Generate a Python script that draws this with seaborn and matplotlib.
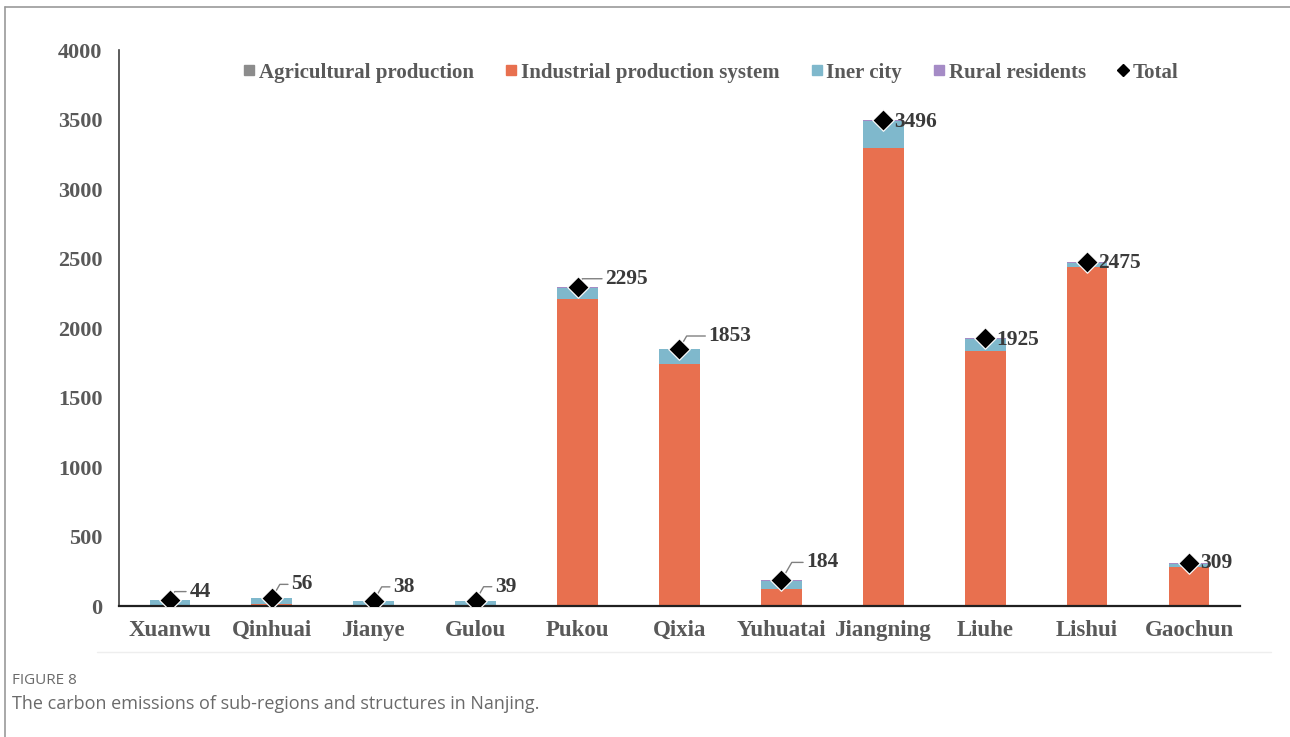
import numpy as np
import pandas as pd
import matplotlib
matplotlib.use("Agg")
import matplotlib.pyplot as plt
import seaborn as sns
from matplotlib.lines import Line2D

regions = ["Xuanwu", "Qinhuai", "Jianye", "Gulou", "Pukou", "Qixia",
           "Yuhuatai", "Jiangning", "Liuhe", "Lishui", "Gaochun"]
agricultural = [0, 0, 0, 0, 5, 3, 1, 6, 6, 8, 6]
industrial = [0, 12, 0, 0, 2205, 1735, 122, 3290, 1830, 2432, 272]
iner_city = [43, 43, 37, 38, 80, 110, 60, 195, 84, 30, 26]
rural = [1, 1, 1, 1, 5, 5, 1, 5, 5, 5, 5]
total = [44, 56, 38, 39, 2295, 1853, 184, 3496, 1925, 2475, 309]

df = pd.DataFrame({"region": regions, "agri": agricultural, "ind": industrial,
                   "iner": iner_city, "rural": rural, "total": total})
df["c1"] = df["agri"]
df["c2"] = df["c1"] + df["ind"]
df["c3"] = df["c2"] + df["iner"]
df["c4"] = df["c3"] + df["rural"]

c_agri = "#8C8C8C"
c_ind = "#E8704F"
c_iner = "#7FB8CC"
c_rural = "#A58BC6"

sns.set_theme(style="white")
plt.rcParams["font.family"] = ["Liberation Serif", "DejaVu Serif"]

fig = plt.figure(figsize=(12.9, 7.37), dpi=100)
ax = fig.add_axes([0.0922, 0.1777, 0.8690, 0.7543])

for col, color in [("c4", c_rural), ("c3", c_iner), ("c2", c_ind), ("c1", c_agri)]:
    sns.barplot(data=df, x="region", y=col, color=color, width=0.4,
                saturation=1, ax=ax, errorbar=None, linewidth=0)

sns.scatterplot(data=df, x="region", y="total", marker="D", color="black",
                s=120, ax=ax, zorder=5, legend=False)

# labels: (dx, dy) offsets in points, leader line flag
offsets = {
    "Xuanwu": (14, 6, True), "Qinhuai": (14, 10, True), "Jianye": (14, 10, True),
    "Gulou": (14, 10, True), "Pukou": (20, 6, True), "Qixia": (21, 9, True),
    "Yuhuatai": (18, 13, True), "Jiangning": (8, -1, False), "Liuhe": (8, -1, False),
    "Lishui": (8, -1, False), "Gaochun": (8, 0, False),
}
for i, (r, t) in enumerate(zip(regions, total)):
    dx, dy, lead = offsets[r]
    kw = {}
    if lead:
        kw["arrowprops"] = dict(arrowstyle="-", color="#808080", lw=1.0,
                                shrinkA=0, shrinkB=2,
                                connectionstyle="angle,angleA=0,angleB=60,rad=0")
    ax.annotate(str(t), xy=(i, t), xytext=(dx, dy), textcoords="offset points",
                fontsize=15.5, fontweight="bold", color="#3A3A3A",
                ha="left", va="center", **kw)

ax.set_ylim(0, 4000)
ax.set_xlim(-0.5, 10.5)
ax.set_yticks(np.arange(0, 4001, 500))
ax.set_xlabel("")
ax.set_ylabel("")
ax.tick_params(axis="x", length=0, labelsize=16.5, labelcolor="#595959", pad=10)
ax.tick_params(axis="y", length=0, labelsize=16, labelcolor="#595959", pad=12)
for lab in ax.get_xticklabels() + ax.get_yticklabels():
    lab.set_fontweight("bold")
for s in ["top", "right"]:
    ax.spines[s].set_visible(False)
ax.spines["left"].set_color("#404040")
ax.spines["bottom"].set_color("#202020")
ax.spines["left"].set_linewidth(1.2)
ax.spines["bottom"].set_linewidth(1.6)
ax.grid(False)

handles = [
    Line2D([], [], marker="s", ls="", color=c_agri, markersize=7),
    Line2D([], [], marker="s", ls="", color=c_ind, markersize=7),
    Line2D([], [], marker="s", ls="", color=c_iner, markersize=7),
    Line2D([], [], marker="s", ls="", color=c_rural, markersize=7),
    Line2D([], [], marker="D", ls="", color="black", markersize=6),
]
labels = ["Agricultural production", "Industrial production system", "Iner city",
          "Rural residents", "Total"]
leg = ax.legend(handles, labels, ncol=5, loc="upper center",
                bbox_to_anchor=(0.527, 1.011), frameon=False,
                prop={"family": "Liberation Serif", "weight": "bold", "size": 15},
                handletextpad=0.05, columnspacing=1.4, handlelength=0.8)
for t in leg.get_texts():
    t.set_color("#595959")

# page frame
fig.add_artist(Line2D([0.004, 1.0], [0.99, 0.99], color="#9A9A9A", lw=1.2,
                      transform=fig.transFigure))
fig.add_artist(Line2D([0.004, 0.004], [0.0, 0.99], color="#9A9A9A", lw=1.2,
                      transform=fig.transFigure))
fig.add_artist(Line2D([0.075, 0.985], [0.116, 0.116], color="#EEEEEE", lw=1.0,
                      transform=fig.transFigure))

fig.text(0.0095, 0.077, "FIGURE 8", fontsize=11, color="#6A6A6A",
         family="Open Sans", va="center")
fig.text(0.0095, 0.045, "The carbon emissions of sub-regions and structures in Nanjing.",
         fontsize=13, color="#6A6A6A", family="Open Sans", va="center")

fig.savefig("out.png", dpi=100)
